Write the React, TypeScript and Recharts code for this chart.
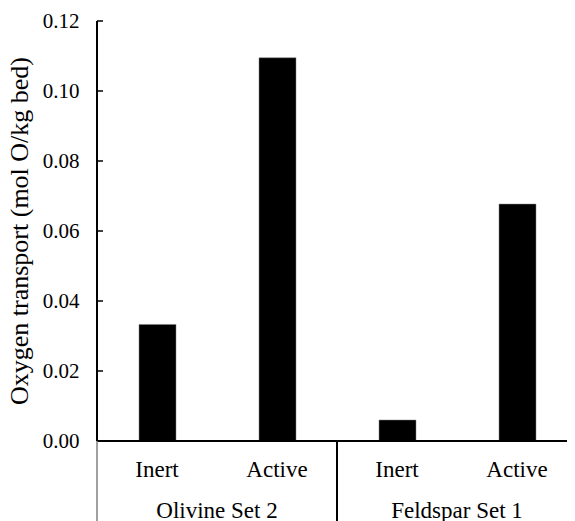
import { BarChart, Bar, XAxis, YAxis, Label } from "recharts"

const categories = ["Inert", "Active", "Inert", "Active"]
const groups = ["Olivine Set 2", "Feldspar Set 1"]
const transport = [0.0333, 0.1095, 0.006, 0.0677]
const yTicks = [0, 0.02, 0.04, 0.06, 0.08, 0.1, 0.12]

const data = categories.map((name, i) => ({
  name,
  group: groups[Math.floor(i / 2)],
  value: transport[i],
}))

const FONT = "Liberation Serif, Times New Roman, serif"

type TickProps = {
  x?: number
  y?: number
  index?: number
  payload?: { value: string; offset?: number }
}

// category label, plus the group name and separator under each pair
function CatTick({ x = 0, y = 0, index = 0, payload }: TickProps) {
  const half = payload && payload.offset ? payload.offset : 60
  const first = index % 2 === 0
  const last = index === categories.length - 1
  return (
    <g>
      <text
        x={x}
        y={y + 20}
        dy="0.71em"
        textAnchor="middle"
        fill="#000"
        style={{ fontSize: 23, fontFamily: FONT }}
      >
        {payload ? payload.value : ""}
      </text>
      {first && (
        <>
          <line
            x1={x - half}
            x2={x - half}
            y1={y}
            y2={y + 80}
            stroke={index === 0 ? "#808080" : "#000"}
            strokeWidth={index === 0 ? 1.5 : 2}
          />
          <text
            x={x + half}
            y={y + 61}
            dy="0.71em"
            textAnchor="middle"
            fill="#000"
            style={{ fontSize: 23, fontFamily: FONT }}
          >
            {data[index].group}
          </text>
        </>
      )}
      {last && (
        <line x1={x + half} x2={x + half} y1={y} y2={y + 80} stroke="#808080" strokeWidth={1.5} />
      )}
    </g>
  )
}

function YTitle({ viewBox }: { viewBox?: { x: number; y: number; width: number; height: number } }) {
  if (!viewBox) return null
  const cx = viewBox.x + 20
  const cy = viewBox.y + viewBox.height / 2
  return (
    <text
      x={cx}
      y={cy}
      transform={`rotate(-90 ${cx} ${cy})`}
      textAnchor="middle"
      fill="#000"
      style={{ fontSize: 26, fontFamily: FONT }}
    >
      Oxygen transport (mol O/kg bed)
    </text>
  )
}

export default function App() {
  return (
    <div style={{ width: 567, overflow: "hidden", fontFamily: FONT }}>
      <BarChart
        width={575}
        height={513}
        data={data}
        margin={{ top: 13, right: 6, left: 0, bottom: 0 }}
      >
        <XAxis xAxisId="top" orientation="top" height={0} tick={false} tickLine={false} axisLine={{ stroke: "#000", strokeWidth: 2 }} />
        <XAxis
          xAxisId="cat"
          dataKey="name"
          height={80}
          interval={0}
          tickLine={false}
          tickSize={0}
          tickMargin={0}
          axisLine={{ stroke: "#000", strokeWidth: 2 }}
          tick={<CatTick />}
        />
        <YAxis
          width={89}
          domain={[0, 0.12]}
          ticks={yTicks}
          interval={0}
          tickFormatter={(v: number) => v.toFixed(2)}
          tickSize={-6}
          tickMargin={23.5}
          axisLine={{ stroke: "#000", strokeWidth: 2 }}
          tickLine={{ stroke: "#000", strokeWidth: 1.5 }}
          tick={{ fill: "#000", fontSize: 21, fontFamily: FONT }}
        >
          <Label content={<YTitle />} />
        </YAxis>
        <Bar
          xAxisId="cat"
          dataKey="value"
          fill="#000"
          stroke="#808080"
          strokeWidth={0.5}
          barSize={37}
          isAnimationActive={false}
        />
      </BarChart>
    </div>
  )
}
